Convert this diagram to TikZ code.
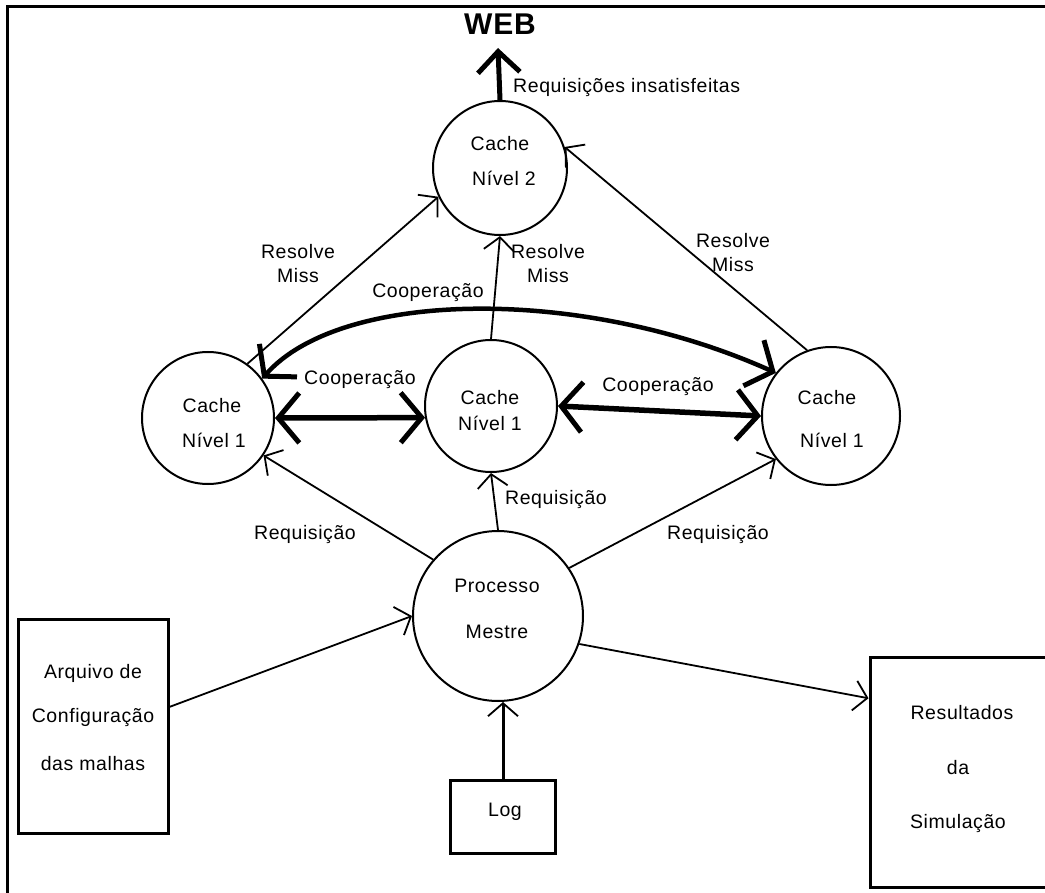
\documentclass[tikz,border=0pt]{standalone}
\usepackage{fontspec}
\setmainfont[LetterSpace=3]{Liberation Sans}
\usetikzlibrary{arrows.meta}

\begin{document}
\begin{tikzpicture}[x=1pt,y=-1pt,
  txt/.style={font=\fontsize{19.5}{21}\selectfont, inner sep=0pt},
  cachenode/.style={circle, draw, line width=2pt, minimum size=132pt, inner sep=0pt},
  boxnode/.style={draw, line width=3pt, inner sep=0pt},
  req/.style={line width=1.8pt, -{Straight Barb[length=13pt,width=30pt,line width=1.8pt]}},
  coop/.style={line width=5.5pt, {Straight Barb[length=21pt,width=50pt,line width=5pt]}-{Straight Barb[length=21pt,width=50pt,line width=5pt]}},
  bold arrow/.style={line width=5pt, -{Straight Barb[length=21pt,width=42pt,line width=5pt]}}
]
\clip (0,0) rectangle (1045,893);

% outer frame (top and left edges)
\draw[line width=3pt] (7,893) -- (7,7) -- (1045,7);

% caches and master process
\node[cachenode, minimum size=134pt] (l2)  at (500,168) {};
\node[cachenode] (c1l) at (208,418) {};
\node[cachenode] (c1m) at (491,406) {};
\node[cachenode, minimum size=138pt] (c1r) at (831,416) {};
\node[cachenode, minimum size=170pt] (mestre) at (498,616) {};

% text inside the circles
\node[txt] (l2a) at (500,144) {Cache};
\node[txt] (l2b) at (504,178) {Nível 2};
\node[txt] (c1la) at (212,406) {Cache};
\node[txt] (c1lb) at (214,440) {Nível 1};
\node[txt] (c1ma) at (490,398) {Cache};
\node[txt] (c1mb) at (490,423) {Nível 1};
\node[txt] (c1ra) at (827,398) {Cache};
\node[txt] (c1rb) at (832,440) {Nível 1};
\node[txt] (mea) at (497,586) {Processo};
\node[txt] (meb) at (497,632) {Mestre};

% rectangles
\node[boxnode, minimum width=150pt, minimum height=214pt] (arq) at (93,726) {};
\node[txt] (arqa) at (93,673) {Arquivo de};
\node[txt] (arqb) at (93,717) {Configuração};
\node[txt] (arqc) at (93,764) {das malhas};

\node[boxnode, minimum width=105pt, minimum height=73pt] (log) at (503,816.5) {};
\node[txt] (loga) at (505,812) {Log};

\node[boxnode, minimum width=200pt, minimum height=230pt] (res) at (970,772) {};
\node[txt] (resa) at (962,713) {Resultados};
\node[txt] (resb) at (958,768) {da};
\node[txt] (resc) at (958,823) {Simulação};

% web
\node[font=\fontsize{30}{32}\selectfont\bfseries, inner sep=0pt] (web) at (500,24) {WEB};
\coordinate (webtip) at (498,48);
\draw[bold arrow] (l2.north) -- (webtip);
\node[txt, anchor=west] (insat) at (513,88) {Requisições insatisfeitas};

% requests from the master process
\draw[req] (mestre.139) -- (c1l.-34);
\draw[req] (mestre.north) -- (c1m.south);
\draw[req] (mestre.34) -- (c1r.218);
\node[txt] (rq1) at (305,535) {Requisição};
\node[txt] (rq2) at (556,500) {Requisição};
\node[txt] (rq3) at (718,535) {Requisição};

% inputs and outputs of the master process
\draw[req] (arq.14) -- (mestre.west);
\draw[req, line width=3pt] (log.north) -- (log.north |- mestre.south);
\draw[req] (mestre.-19) -- (res.144);

% misses resolved by level 2
\draw[req] (c1l.54) -- (l2.205);
\draw[req] (c1m.north) -- (l2.south);
\draw[req] (c1r.110) -- (l2.18);
\node[txt, align=center] (rm1) at (298,264) {Resolve\\[3pt]Miss};
\node[txt, align=center] (rm2) at (548,264) {Resolve\\[3pt]Miss};
\node[txt, align=center] (rm3) at (733,253) {Resolve\\[3pt]Miss};

% cooperation between level 1 caches
\draw[coop] (c1l.east) -- (c1m.190);
\draw[coop] (c1m.east) -- (c1r.west);
\draw[coop, line width=4.5pt] (c1l.36) .. controls (340,290) and (580,285) .. (c1r.142);
\node[txt] (co1) at (360,380) {Cooperação};
\node[txt] (co2) at (658,387) {Cooperação};
\node[txt] (co3) at (428,293) {Cooperação};
\end{tikzpicture}
\end{document}
